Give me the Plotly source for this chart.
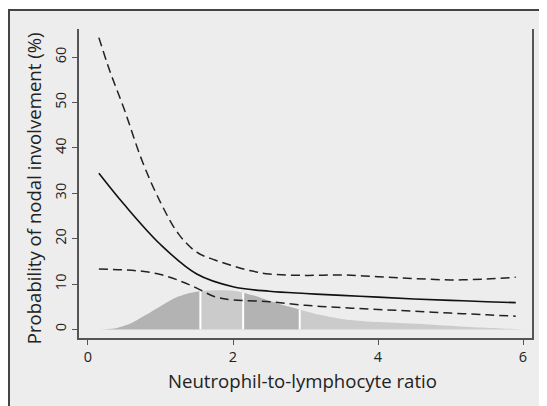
import plotly.graph_objects as go

# --- data ---
nlr_fit = [0.15, 0.5, 1.0, 1.5, 2.0, 2.5, 3.0, 3.5, 4.0, 4.5, 5.0, 5.5, 5.9]
prob_fit = [34.4, 27.5, 18.7, 12.2, 9.4, 8.4, 7.9, 7.5, 7.1, 6.7, 6.4, 6.1, 5.9]

nlr_upper = [0.15, 0.3, 0.5, 0.75, 1.0, 1.25, 1.5, 1.75, 2.0, 2.25, 2.5, 3.0, 3.5, 4.0, 4.5, 5.0, 5.5, 5.9]
prob_upper = [64.3, 57.0, 48.5, 37.0, 28.0, 21.0, 17.0, 15.3, 14.0, 12.9, 12.2, 11.9, 12.0, 11.6, 11.2, 10.9, 11.1, 11.5]

nlr_lower = [0.15, 0.5, 0.75, 1.0, 1.25, 1.5, 1.75, 2.0, 2.5, 3.0, 3.5, 4.0, 4.5, 5.0, 5.5, 5.9]
prob_lower = [13.3, 13.1, 12.8, 12.1, 10.8, 9.1, 7.2, 6.5, 6.1, 5.3, 4.8, 4.4, 4.0, 3.6, 3.2, 2.9]

nlr_density = [0.0, 0.25, 0.4, 0.6, 0.8, 1.0, 1.2, 1.4, 1.55, 1.75, 2.0, 2.14, 2.3, 2.5, 2.7, 2.92,
               3.2, 3.5, 3.8, 4.0, 4.3, 4.7, 5.0, 5.4, 5.7, 6.0]
density = [0.0, 0.05, 0.3, 1.4, 3.2, 5.1, 6.9, 8.0, 8.4, 8.6, 8.5, 8.1, 7.4, 6.3, 5.3, 4.4,
           3.2, 2.3, 1.8, 1.6, 1.4, 1.1, 0.8, 0.4, 0.2, 0.0]
quartiles = [1.55, 2.14, 2.92]

x_ticks = [0, 2, 4, 6]
y_ticks = [0, 10, 20, 30, 40, 50, 60]

x_title = "Neutrophil-to-lymphocyte ratio"
y_title = "Probability of nodal involvement (%)"

# --- figure (page body has an 8px margin, so the figure is offset by 8px) ---
W, H = 539, 398
ML, MR, MT, MB = 71, 15, 21, 68
FONT = "Open Sans"

fig = go.Figure()

# density segments
bounds = [min(nlr_density)] + quartiles + [max(nlr_density)]
seg_colors = ["#b3b3b3", "#cbcbcb", "#b3b3b3", "#cbcbcb"]
for i in range(len(bounds) - 1):
    lo, hi = bounds[i], bounds[i + 1]
    xs = [x for x in nlr_density if lo <= x <= hi]
    ys = [d for x, d in zip(nlr_density, density) if lo <= x <= hi]
    fig.add_trace(go.Scatter(x=xs, y=ys, mode="lines", fill="tozeroy",
                             fillcolor=seg_colors[i],
                             line=dict(width=0, color=seg_colors[i], shape="spline", smoothing=0.8),
                             hoverinfo="skip", showlegend=False))

# white separators at quartiles
for q in quartiles:
    dq = density[nlr_density.index(q)]
    fig.add_trace(go.Scatter(x=[q, q], y=[0, dq], mode="lines",
                             line=dict(color="white", width=2), showlegend=False, hoverinfo="skip"))

fig.add_trace(go.Scatter(x=nlr_upper, y=prob_upper, mode="lines",
                         line=dict(color="#222222", width=1.5, dash="9px,5px", shape="spline"),
                         showlegend=False))
fig.add_trace(go.Scatter(x=nlr_lower, y=prob_lower, mode="lines",
                         line=dict(color="#222222", width=1.5, dash="9px,5px", shape="spline"),
                         showlegend=False))
fig.add_trace(go.Scatter(x=nlr_fit, y=prob_fit, mode="lines",
                         line=dict(color="#111111", width=1.6, shape="spline"),
                         showlegend=False))

pw = W - ML - MR
ph = H - MT - MB
# outer light-grey panel with dark border
fig.add_shape(type="rect", xref="paper", yref="paper",
              x0=(1 - ML) / pw, x1=(W + 20 - ML) / pw,
              y0=-(MB + 20) / ph, y1=1 + (MT - 2) / ph,
              line=dict(color="#444444", width=2), fillcolor="#ededed", layer="below")

# axis titles as annotations for precise placement
fig.add_annotation(text=x_title, xref="paper", yref="paper",
                   x=0.5, y=-(372 - (H - MB)) / ph, xshift=-3,
                   xanchor="center", yanchor="middle", showarrow=False,
                   font=dict(size=18.6, family=FONT, color="#222222"))
fig.add_annotation(text=y_title, xref="paper", yref="paper", textangle=-90,
                   x=(25.5 - ML) / pw, y=1 - (180.8 - MT) / ph,
                   xanchor="center", yanchor="middle", showarrow=False,
                   font=dict(size=18.6, family=FONT, color="#222222"))

fig.update_layout(
    width=W, height=H,
    margin=dict(l=ML, r=MR, t=MT, b=MB, autoexpand=False),
    paper_bgcolor="white",
    plot_bgcolor="white",
    font=dict(family=FONT, color="#222222"),
)
fig.update_xaxes(
    range=[-0.124, 6.124], tickvals=x_ticks, ticks="outside", ticklen=5, tickwidth=1,
    tickcolor="#555555", showline=True, linecolor="#555555", linewidth=1.5,
    showgrid=False, zeroline=False, tickfont=dict(size=14.5, family=FONT),
    automargin=False,
)
fig.update_yaxes(
    range=[-1.9, 66.2], tickvals=y_ticks, ticks="outside", ticklen=5, tickwidth=1,
    tickcolor="#555555", showline=True, linecolor="#555555", linewidth=1.5, mirror=True,
    showgrid=True, gridcolor="#ececec", gridwidth=1, zeroline=False, tickangle=-90,
    tickfont=dict(size=14.5, family=FONT), automargin=False,
)

fig.write_html("out.html")
